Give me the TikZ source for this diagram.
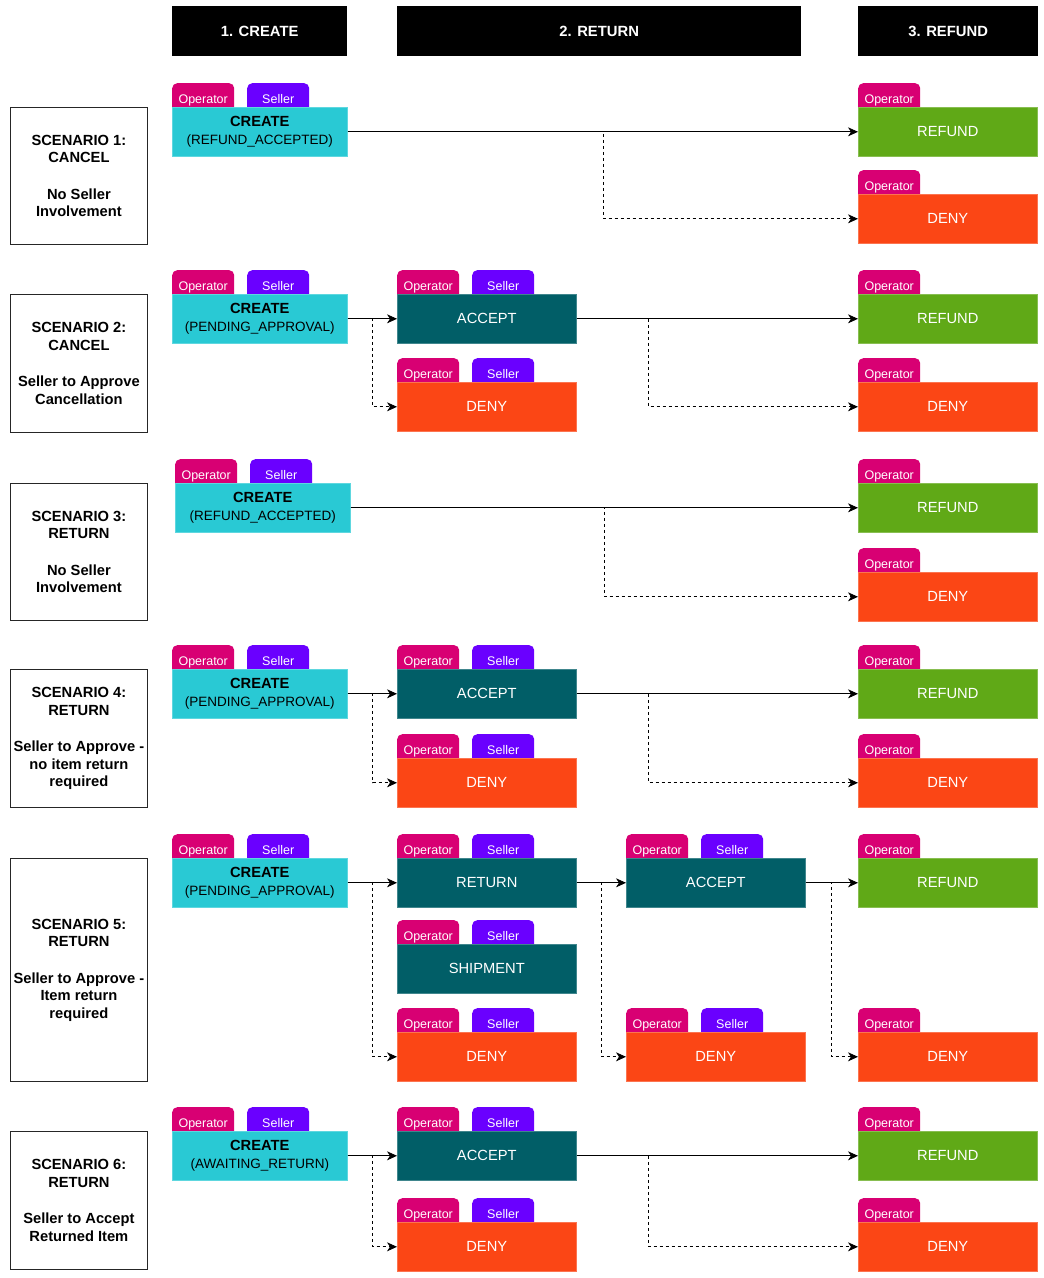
\documentclass[tikz,border=0pt]{standalone}
\usepackage{fontspec}
\setmainfont{Liberation Sans}
\usetikzlibrary{arrows.meta}
\definecolor{opc}{HTML}{D80073}
\definecolor{selc}{HTML}{6A00FF}
\definecolor{createc}{HTML}{29C9D4}
\definecolor{tealc}{HTML}{015E67}
\definecolor{greenc}{HTML}{60A917}
\definecolor{denyc}{HTML}{FB4615}
\tikzset{
  optag/.style={fill=opc, rounded corners=5pt, anchor=north west, minimum width=62pt,
    minimum height=34pt, inner sep=0pt, text=white, text height=9pt, text depth=3pt,
    font=\fontsize{12.5}{14}\selectfont},
  seltag/.style={optag, fill=selc},
  stagebox/.style={anchor=north west, minimum width=179pt, minimum height=49pt, inner sep=0pt,
    text=white, font=\fontsize{14.7}{17}\selectfont, fill=#1, draw=#1!75!white, line width=0.6pt},
  createbox/.style={anchor=north west, minimum width=175pt, minimum height=49pt, inner sep=0pt,
    fill=createc, draw=createc!75!white, line width=0.6pt, align=center,
    font=\fontsize{13.5}{18}\selectfont},
  header/.style={anchor=north west, minimum height=50pt, inner sep=0pt, fill=black,
    text=white, font=\bfseries\fontsize{14.8}{17}\selectfont},
  scen/.style={anchor=north west, minimum width=137pt, inner sep=0pt, draw=black!85,
    line width=0.8pt, fill=white, align=center, font=\bfseries\fontsize{14.7}{17.5}\selectfont},
  flow/.style={draw=black, line width=0.9pt, -{Stealth[length=10pt,width=9pt,inset=3pt]}},
  alt/.style={flow, dash pattern=on 3pt off 3pt}
}
\newcommand\boxop[5]{%
  \node[optag] (#1op) at (#2,#3-24) {Operator};
  \node[#4] (#1) at (#2,#3) {#5};}
\newcommand\boxos[5]{%
  \node[optag] (#1op) at (#2,#3-24) {Operator};
  \node[seltag] (#1sel) at (#2+75,#3-24) {Seller};
  \node[#4] (#1) at (#2,#3) {#5};}
\newcommand\crtxt[1]{{\bfseries\fontsize{14.7}{18}\selectfont CREATE}\\#1}
\begin{document}
\begin{tikzpicture}[x=1pt,y=-1pt]
\useasboundingbox[fill=white] (0,0) rectangle (1044,1278);

% headers
\node[header, minimum width=175pt] (h1) at (172,6) {1. CREATE};
\node[header, minimum width=404pt] (h2) at (397,6) {2. RETURN};
\node[header, minimum width=180pt] (h3) at (858,6) {3. REFUND};

% scenario boxes
\node[scen, minimum height=137pt] (sc1) at (10,107) {SCENARIO 1:\\CANCEL\\[19pt]No Seller\\Involvement};
\node[scen, minimum height=138pt] (sc2) at (10,294) {SCENARIO 2:\\CANCEL\\[19pt]Seller to Approve\\Cancellation};
\node[scen, minimum height=137pt] (sc3) at (10,483) {SCENARIO 3:\\RETURN\\[19pt]No Seller\\Involvement};
\node[scen, minimum height=138pt] (sc4) at (10,669) {SCENARIO 4:\\RETURN\\[19pt]Seller to Approve -\\no item return\\required};
\node[scen, minimum height=223pt] (sc5) at (10,858) {SCENARIO 5:\\RETURN\\[19pt]Seller to Approve -\\Item return\\required};
\node[scen, minimum height=138pt] (sc6) at (10,1131) {SCENARIO 6:\\RETURN\\[19pt]Seller to Accept\\Returned Item};

% Scenario 1
\boxos{s1c}{172}{107}{createbox}{\crtxt{(REFUND\_ACCEPTED)}}
\boxop{s1r}{858}{107}{stagebox=greenc}{REFUND}
\boxop{s1d}{858}{194}{stagebox=denyc}{DENY}
\draw[flow] (s1c.east) -- (s1r.west);
\draw[alt] (s1c.east) -- ++(256,0) |- (s1d.west);

% Scenario 2
\boxos{s2c}{172}{294}{createbox}{\crtxt{(PENDING\_APPROVAL)}}
\boxos{s2a}{397}{294}{stagebox=tealc}{ACCEPT}
\boxos{s2d}{397}{382}{stagebox=denyc}{DENY}
\boxop{s2r}{858}{294}{stagebox=greenc}{REFUND}
\boxop{s2e}{858}{382}{stagebox=denyc}{DENY}
\draw[flow] (s2c.east) -- (s2a.west);
\draw[alt] (s2c.east) -- ++(25,0) |- (s2d.west);
\draw[flow] (s2a.east) -- (s2r.west);
\draw[alt] (s2a.east) -- ++(72,0) |- (s2e.west);

% Scenario 3
\boxos{s3c}{175}{483}{createbox}{\crtxt{(REFUND\_ACCEPTED)}}
\boxop{s3r}{858}{483}{stagebox=greenc}{REFUND}
\boxop{s3d}{858}{572}{stagebox=denyc}{DENY}
\draw[flow] (s3c.east) -- (s3r.west);
\draw[alt] (s3c.east) -- ++(254,0) |- (s3d.west);

% Scenario 4
\boxos{s4c}{172}{669}{createbox}{\crtxt{(PENDING\_APPROVAL)}}
\boxos{s4a}{397}{669}{stagebox=tealc}{ACCEPT}
\boxos{s4d}{397}{758}{stagebox=denyc}{DENY}
\boxop{s4r}{858}{669}{stagebox=greenc}{REFUND}
\boxop{s4e}{858}{758}{stagebox=denyc}{DENY}
\draw[flow] (s4c.east) -- (s4a.west);
\draw[alt] (s4c.east) -- ++(25,0) |- (s4d.west);
\draw[flow] (s4a.east) -- (s4r.west);
\draw[alt] (s4a.east) -- ++(72,0) |- (s4e.west);

% Scenario 5
\boxos{s5c}{172}{858}{createbox}{\crtxt{(PENDING\_APPROVAL)}}
\boxos{s5t}{397}{858}{stagebox=tealc}{RETURN}
\boxos{s5s}{397}{944}{stagebox=tealc}{SHIPMENT}
\boxos{s5d}{397}{1032}{stagebox=denyc}{DENY}
\boxos{s5a}{626}{858}{stagebox=tealc}{ACCEPT}
\boxos{s5f}{626}{1032}{stagebox=denyc}{DENY}
\boxop{s5r}{858}{858}{stagebox=greenc}{REFUND}
\boxop{s5e}{858}{1032}{stagebox=denyc}{DENY}
\draw[flow] (s5c.east) -- (s5t.west);
\draw[alt] (s5c.east) -- ++(25,0) |- (s5d.west);
\draw[flow] (s5t.east) -- (s5a.west);
\draw[alt] (s5t.east) -- ++(25,0) |- (s5f.west);
\draw[flow] (s5a.east) -- (s5r.west);
\draw[alt] (s5a.east) -- ++(26,0) |- (s5e.west);

% Scenario 6
\boxos{s6c}{172}{1131}{createbox}{\crtxt{(AWAITING\_RETURN)}}
\boxos{s6a}{397}{1131}{stagebox=tealc}{ACCEPT}
\boxos{s6d}{397}{1222}{stagebox=denyc}{DENY}
\boxop{s6r}{858}{1131}{stagebox=greenc}{REFUND}
\boxop{s6e}{858}{1222}{stagebox=denyc}{DENY}
\draw[flow] (s6c.east) -- (s6a.west);
\draw[alt] (s6c.east) -- ++(25,0) |- (s6d.west);
\draw[flow] (s6a.east) -- (s6r.west);
\draw[alt] (s6a.east) -- ++(72,0) |- (s6e.west);
\end{tikzpicture}
\end{document}
